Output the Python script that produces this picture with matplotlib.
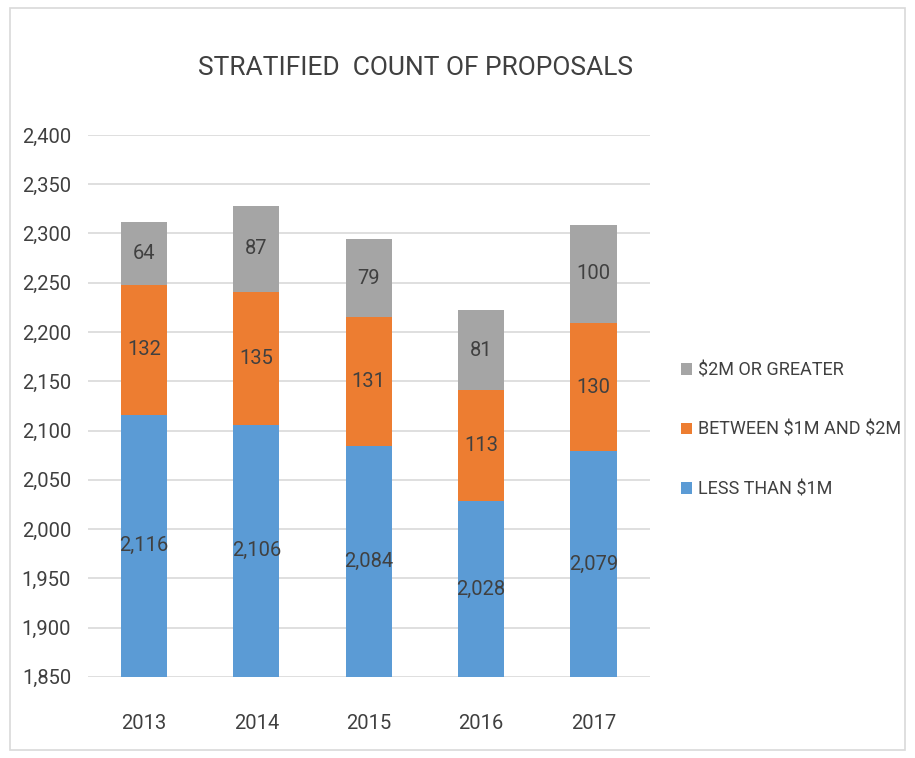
import matplotlib.pyplot as plt
from matplotlib.patches import Rectangle

years = ['2013', '2014', '2015', '2016', '2017']
less_1m = [2116, 2106, 2084, 2028, 2079]
between_1m_2m = [132, 135, 131, 113, 130]
over_2m = [64, 87, 79, 81, 100]

y_min, y_max = 1850, 2400
y_ticks = list(range(1850, 2401, 50))

plt.rcParams['font.family'] = ['Roboto', 'DejaVu Sans']
plt.rcParams['text.parse_math'] = False
text_color = '#404040'

fig = plt.figure(figsize=(9.15, 7.58), dpi=100)
ax = fig.add_axes([0.096, 0.107, 0.614, 0.715])

# light frame around the chart
fig.patches.append(Rectangle((0.011, 0.010), 0.978, 0.979, transform=fig.transFigure,
                             fill=False, edgecolor='#D9D9D9', linewidth=1.2))

x = list(range(len(years)))
width = 0.41
series = [
    ('LESS THAN $1M', less_1m, '#5B9BD5'),
    ('BETWEEN $1M AND $2M', between_1m_2m, '#ED7D31'),
    ('$2M OR GREATER', over_2m, '#A5A5A5'),
]

bottom = [0] * len(years)
for label, values, color in series:
    ax.bar(x, values, width, bottom=bottom, color=color, label=label, zorder=3)
    for i, v in enumerate(values):
        lo = max(bottom[i], y_min)
        hi = bottom[i] + v
        ax.text(x[i], (lo + hi) / 2, f'{v:,}', ha='center', va='center',
                fontsize=14.5, color=text_color, zorder=4)
    bottom = [b + v for b, v in zip(bottom, values)]

ax.set_ylim(y_min, y_max)
ax.set_xlim(-0.5, len(years) - 0.5)
ax.set_yticks(y_ticks)
ax.set_yticklabels([f'{t:,}' for t in y_ticks])
ax.set_xticks(x)
ax.set_xticklabels(years)
ax.tick_params(axis='both', length=0, labelsize=14.5, colors=text_color)
ax.tick_params(axis='x', pad=27)
ax.tick_params(axis='y', pad=12)
ax.grid(axis='y', color='#D9D9D9', linewidth=1.2, zorder=0)
for side in ['top', 'right', 'left', 'bottom']:
    ax.spines[side].set_visible(False)

fig.text(415 / 915, 1 - 68 / 758, 'STRATIFIED  COUNT OF PROPOSALS', ha='center', va='center',
         fontsize=19, color=text_color)

handles, labels = ax.get_legend_handles_labels()
fig.legend(handles[::-1], labels[::-1], loc='center left', bbox_to_anchor=(0.727, 1 - 430 / 758),
           frameon=False, fontsize=13, labelcolor=text_color, handlelength=0.6, handleheight=0.6,
           handletextpad=0.3, labelspacing=2.3)

fig.savefig('out.png', dpi=100)
